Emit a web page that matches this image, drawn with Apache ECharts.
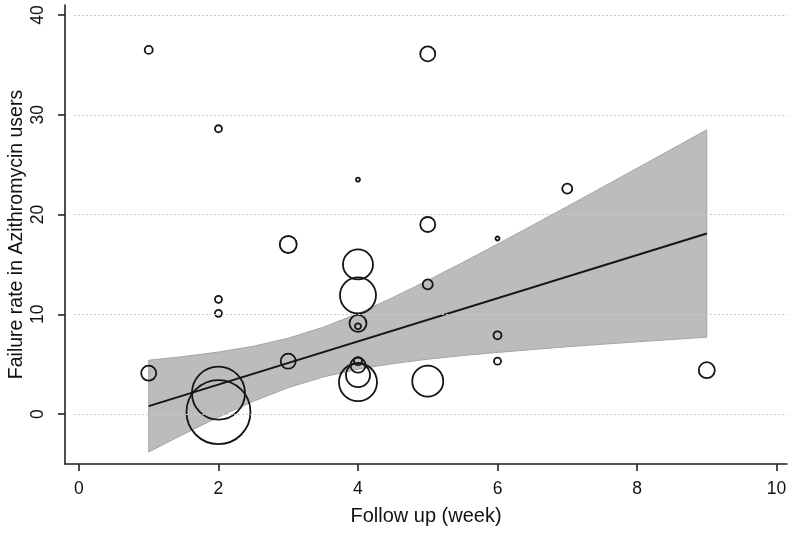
<!DOCTYPE html>
<html>
<head>
<meta charset="utf-8">
<script src="https://cdn.jsdelivr.net/npm/echarts@6/dist/echarts.min.js"></script>
<style>
html,body{margin:0;padding:0;background:#fff;}
#chart{width:800px;height:535px;}
</style>
</head>
<body>
<div id="chart"></div>
<script>
// Study points: follow-up (week), failure rate, marker weight (drawn diameter)
const ptX = [1, 1, 2, 2, 2, 2, 2, 3, 3, 4, 4, 4, 4, 4, 4, 4, 4, 4, 5, 5, 5, 5, 6, 6, 6, 7, 9];
const ptY = [36.5, 4.1, 28.6, 11.5, 10.1, 2.1, 0.2, 17.0, 5.3, 23.5, 15.0, 11.9, 9.1, 8.8, 5.3, 4.9, 3.9, 3.2, 36.1, 19.0, 13.0, 3.3, 17.6, 7.9, 5.3, 22.6, 4.4];
const ptW = [8, 15, 7, 7, 7, 53, 64, 17, 15, 4, 30, 36, 17, 6, 8, 15, 24, 38, 15, 15, 10, 31, 4, 8, 7, 10, 16];

// Fitted line
const fitX = [1, 9];
const fitY = [0.8, 18.1];

// Confidence band
const bandX = [1, 1.5, 2, 2.5, 3, 3.5, 4, 4.5, 5, 5.5, 6, 6.5, 7, 7.5, 8, 8.5, 9];
const bandUpper = [5.40, 5.77, 6.22, 6.80, 7.61, 8.70, 10.08, 11.68, 13.40, 15.19, 17.04, 18.91, 20.81, 22.72, 24.64, 26.56, 28.49];
const bandLower = [-3.80, -2.01, -0.30, 1.28, 2.65, 3.72, 4.50, 5.06, 5.50, 5.87, 6.18, 6.47, 6.75, 7.00, 7.24, 7.48, 7.71];

// Ticks
const xTicks = [0, 2, 4, 6, 8, 10];
const yTicks = [0, 10, 20, 30, 40];

const xTitle = 'Follow up (week)';
const yTitle = 'Failure rate in Azithromycin users';

const font = "'Liberation Sans', Arial, sans-serif";
const chart = echarts.init(document.getElementById('chart'), null, {renderer: 'canvas'});

const bandData = bandX.map((x, i) => [x, bandLower[i], bandUpper[i]]);
const pts = ptX.map((x, i) => [x, ptY[i], ptW[i]]);

chart.setOption({
  animation: false,
  backgroundColor: '#ffffff',
  grid: {left: 65, right: 13, top: 5, bottom: 71, containLabel: false, outerBoundsMode: 'none'},
  xAxis: {
    type: 'value', min: -0.2, max: 10.15,
    name: xTitle, nameLocation: 'middle', nameGap: 42, nameMoveOverlap: false,
    nameTextStyle: {fontFamily: font, fontSize: 20, color: '#111'},
    axisLine: {show: true, onZero: false, lineStyle: {color: '#222', width: 1.6}},
    axisTick: {show: true, customValues: xTicks, length: 7, lineStyle: {color: '#222', width: 1.6}},
    axisLabel: {customValues: xTicks, margin: 16, fontFamily: font, fontSize: 17.5, color: '#111'},
    splitLine: {show: false}
  },
  yAxis: {
    type: 'value', min: -5, max: 41,
    name: yTitle, nameLocation: 'middle', nameGap: 38, nameMoveOverlap: false,
    nameTextStyle: {fontFamily: font, fontSize: 19.5, color: '#111'},
    axisLine: {show: true, onZero: false, lineStyle: {color: '#222', width: 1.6}},
    axisTick: {show: true, customValues: yTicks, length: 7, lineStyle: {color: '#222', width: 1.6}},
    axisLabel: {customValues: yTicks, rotate: 90, margin: 18, fontFamily: font, fontSize: 17.5, color: '#111'},
    splitLine: {show: false}
  },
  series: [
    {
      type: 'custom',
      z: 1,
      silent: true,
      data: bandData,
      encode: {x: 0, y: [1, 2]},
      renderItem: function (params, api) {
        if (params.dataIndexInside !== 0) return null;
        const pts = [];
        for (let i = 0; i < bandX.length; i++) pts.push(api.coord([bandX[i], bandUpper[i]]));
        for (let i = bandX.length - 1; i >= 0; i--) pts.push(api.coord([bandX[i], bandLower[i]]));
        return {
          type: 'polygon',
          shape: {points: pts},
          style: {fill: '#bcbcbc', stroke: '#a5a5a5', lineWidth: 1}
        };
      }
    },
    {
      type: 'line',
      z: 2,
      silent: true,
      data: fitX.map((x, i) => [x, fitY[i]]),
      symbol: 'none',
      lineStyle: {color: '#151515', width: 2},
      markLine: {
        silent: true,
        symbol: 'none',
        label: {show: false},
        lineStyle: {color: '#c4ccd0', width: 1, type: [2, 2]},
        data: yTicks.map(v => [{coord: [-0.07, v]}, {coord: [10.15, v]}])
      }
    },
    {
      type: 'scatter',
      z: 3,
      silent: true,
      data: pts,
      symbol: 'circle',
      symbolSize: function (v) { return v[2]; },
      itemStyle: {color: 'rgba(0,0,0,0)', borderColor: '#151515', borderWidth: 1.8, opacity: 1}
    }
  ]
});
</script>
</body>
</html>
